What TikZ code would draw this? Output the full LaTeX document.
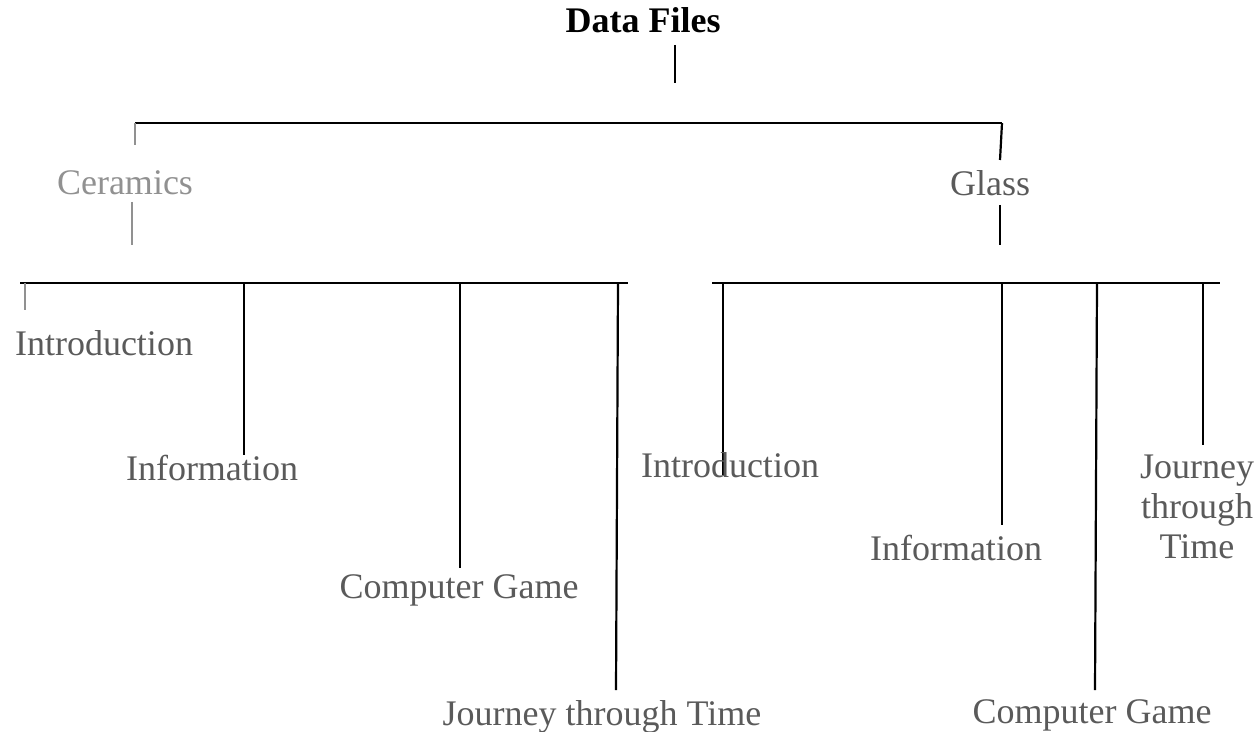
\documentclass[tikz,border=0pt]{standalone}
\usepackage{fontspec}
\setmainfont{Liberation Serif}
\usetikzlibrary{positioning}
\definecolor{inkgray}{RGB}{90,90,90}
\definecolor{palegray}{RGB}{145,145,145}

\begin{document}
\begin{tikzpicture}[x=0.5pt, y=-0.5pt,
	leaf/.style={text=inkgray, font=\fontsize{18}{20}\selectfont, inner sep=1pt},
	branch/.style={line width=1.1pt, black},
	faint/.style={line width=1.1pt, palegray}]
	\useasboundingbox (0,0) rectangle (1257,732);
	
	% ===================== 根 =====================
	\node[font=\bfseries\fontsize{18}{20}\selectfont] (root) at (643,20) {Data Files};
	\path
	(675,45) coordinate (rootS)
	(675,83) coordinate (rootE)
	(135,123) coordinate (topL)
	(1002,123) coordinate (topR)
	(135,145) coordinate (ceraT)
	(132,202) coordinate (ceraS)
	(132,245) coordinate (ceraE)
	(1000,160) coordinate (glassT)
	(1000,205) coordinate (glassS)
	(1000,245) coordinate (glassE);
	
	\draw[branch] (rootS) -- (rootE);
	\draw[branch] (topL) -- (topR);
	\draw[faint] (topL) -- (ceraT);
	\draw[branch] (topR) -- (glassT);
	
	% ===================== 第二层 =====================
	\node[leaf, text=palegray] (cera) at (125,183) {Ceramics};
	\node[leaf] (glass) at (990,183) {Glass};
	\draw[faint] (ceraS) -- (ceraE);
	\draw[branch] (glassS) -- (glassE);
	
	% ===================== Ceramics 分支 =====================
	\path
	(20,283) coordinate (barCL)
	(628,283) coordinate (barCR)
	(25,283) coordinate (c1) (25,310) coordinate (c1e)
	(244,283) coordinate (c2) (244,455) coordinate (c2e)
	(460,283) coordinate (c3) (460,568) coordinate (c3e)
	(618,283) coordinate (c4) (616,690) coordinate (c4e);
	
	\draw[branch] (barCL) -- (barCR);
	\draw[faint] (c1) -- (c1e);
	\draw[branch] (c2) -- (c2e);
	\draw[branch] (c3) -- (c3e);
	\draw[branch] (c4) -- (c4e);
	
	\node[leaf] (intro1) at (104,343) {Introduction};
	\node[leaf] (info1) at (212,468) {Information};
	\node[leaf] (game1) at (459,590) {Computer Game};
	\node[leaf] (journey1) at (602,717) {Journey through Time};
	
	% ===================== Glass 分支 =====================
	\path
	(712,283) coordinate (barGL)
	(1220,283) coordinate (barGR)
	(723,283) coordinate (g1) (723,475) coordinate (g1e)
	(1002,283) coordinate (g2) (1002,525) coordinate (g2e)
	(1097,283) coordinate (g3) (1095,690) coordinate (g3e)
	(1203,283) coordinate (g4) (1203,445) coordinate (g4e);
	
	\draw[branch] (barGL) -- (barGR);
	\draw[branch] (g1) -- (g1e);
	\draw[branch] (g2) -- (g2e);
	\draw[branch] (g3) -- (g3e);
	\draw[branch] (g4) -- (g4e);
	
	\node[leaf] (intro2) at (730,465) {Introduction};
	\node[leaf] (info2) at (956,548) {Information};
	\node[leaf] (game2) at (1092,715) {Computer Game};
	\node[leaf, align=center] (journey2) at (1197,507) {Journey\\through\\Time};
\end{tikzpicture}
\end{document}
